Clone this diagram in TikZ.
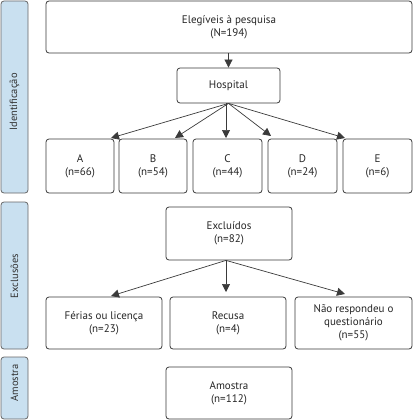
\documentclass[tikz,border=0pt]{standalone}
\usepackage{fontspec}
\setmainfont{PT Sans}
\usetikzlibrary{arrows.meta}
\definecolor{sidefill}{HTML}{C9E0F0}
\definecolor{boxline}{HTML}{3A3A3A}
\begin{document}
\begin{tikzpicture}[x=1pt,y=-1pt,
  box/.style={draw=boxline,line width=0.8pt,rounded corners=3pt,fill=white,align=center,
    font=\fontsize{11}{13}\selectfont,text=black!85},
  side/.style={draw=black!60,line width=0.8pt,rounded corners=3pt,fill=sidefill},
  sidelabel/.style={rotate=90,font=\fontsize{10.5}{12}\selectfont,text=black!80},
  arr/.style={draw=boxline,line width=0.7pt,-{Triangle[length=8pt,width=8pt]}}]
\useasboundingbox (0,0) rectangle (413,420);
% side bars
\draw[side] (1,1) rectangle (28,193);
\node[sidelabel] (l1) at (14.5,102) {Identificação};
\draw[side] (1,202) rectangle (28,349);
\node[sidelabel] (l2) at (14.5,276) {Exclusões};
\draw[side] (1,357) rectangle (28,419);
\node[sidelabel] (l3) at (14.5,383) {Amostra};
% boxes
\node[box,minimum width=366pt,minimum height=52pt] (top) at (229,27) {Elegíveis à pesquisa\\(N=194)};
\node[box,minimum width=103pt,minimum height=35pt] (hosp) at (228.5,85.5) {Hospital};
\node[box,minimum width=68pt,minimum height=54pt] (A) at (80,166) {A\\(n=66)};
\node[box,minimum width=68pt,minimum height=54pt] (B) at (153,166) {B\\(n=54)};
\node[box,minimum width=69pt,minimum height=54pt] (C) at (227.5,166) {C\\(n=44)};
\node[box,minimum width=69pt,minimum height=54pt] (D) at (302.5,166) {D\\(n=24)};
\node[box,minimum width=69pt,minimum height=54pt] (E) at (377.5,166) {E\\(n=6)};
\node[box,minimum width=126pt,minimum height=53pt] (exc) at (229,233.5) {Excluídos\\(n=82)};
\node[box,minimum width=116pt,minimum height=52pt] (fer) at (104,323) {Férias ou licença\\(n=23)};
\node[box,minimum width=116pt,minimum height=52pt] (rec) at (228,323) {Recusa\\(n=4)};
\node[box,minimum width=117pt,minimum height=52pt] (nao) at (353.5,323) {Não respondeu o\\questionário\\(n=55)};
\node[box,minimum width=126pt,minimum height=52pt] (amo) at (229,393) {Amostra\\(n=112)};
% connector tips
\coordinate (tA) at (111,138);
\coordinate (tB) at (175,138);
\coordinate (tC) at (226,138);
\coordinate (tD) at (271,136);
\coordinate (tE) at (345,138);
\coordinate (tF) at (111,296);
\coordinate (tR) at (226,292);
\coordinate (tN) at (345,294);
% arrows
\draw[arr] (top.south -| hosp.north) -- (hosp.north);
\draw[arr] (hosp.south) -- (tA);
\draw[arr] (hosp.south) -- (tB);
\draw[arr] (hosp.south -| tC) -- (tC);
\draw[arr] (hosp.south) -- (tD);
\draw[arr] (hosp.south) -- (tE);
\draw[arr] (exc.south -| tR) -- (tF);
\draw[arr] (exc.south -| tR) -- (tR);
\draw[arr] (exc.south -| tR) -- (tN);
\end{tikzpicture}
\end{document}
